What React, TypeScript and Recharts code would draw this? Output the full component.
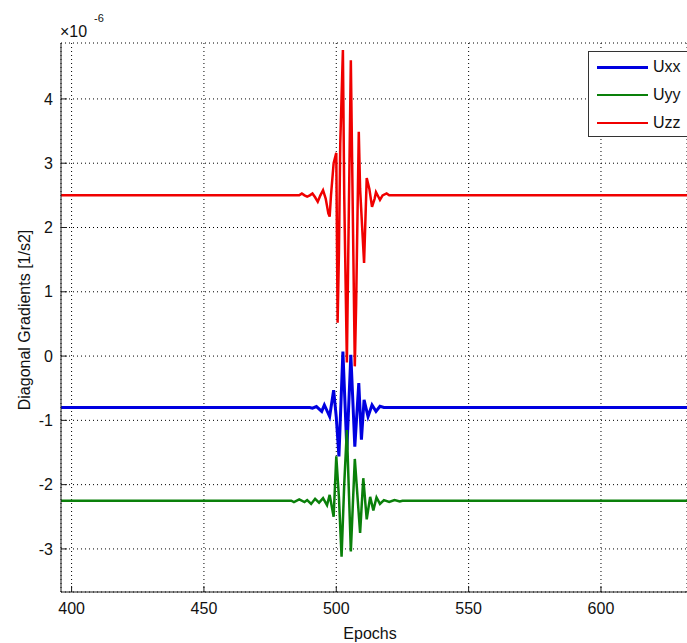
import React from 'react';
import { LineChart, Line, XAxis, YAxis, CartesianGrid } from 'recharts';

// ---------- data (values in units of 1e-6 [1/s2]) ----------
const X_TICKS = [400, 450, 500, 550, 600];
const Y_TICKS = [-3, -2, -1, 0, 1, 2, 3, 4];
const X_DOMAIN: [number, number] = [396, 632.5];
const Y_DOMAIN: [number, number] = [-3.67, 4.87];

const uxxEpochs = [396, 490, 491, 492.5, 494.5, 495.5, 497.5, 499, 500, 501, 502.5, 504, 505.5, 507, 508.5, 509.5, 510.5, 512, 513.5, 515, 516.5, 518, 633];
const uxxValues = [-0.8, -0.8, -0.81, -0.785, -0.86, -0.76, -0.94, -0.53, -0.95, -1.56, 0.07, -1.46, 0.02, -1.41, -0.42, -1.3, -0.68, -0.94, -0.76, -0.86, -0.78, -0.8, -0.8];

const uyyEpochs = [396, 483, 484, 486, 488, 489, 490.5, 492, 493.5, 495, 496.5, 497.5, 499, 500, 501, 502, 503, 504, 505.5, 507, 509, 510.2, 511.5, 512.8, 514, 515.2, 516.5, 518, 520, 522, 524, 525, 633];
const uyyValues = [-2.25, -2.25, -2.27, -2.23, -2.27, -2.24, -2.3, -2.22, -2.28, -2.21, -2.32, -2.16, -2.5, -1.56, -2.2, -3.12, -2.0, -1.15, -3.04, -1.6, -2.75, -1.9, -2.54, -2.19, -2.4, -2.2, -2.3, -2.24, -2.27, -2.24, -2.26, -2.25, -2.25];

const uzzEpochs = [396, 486, 487, 488, 489, 490, 491, 492, 493, 494, 495, 496, 497, 497.5, 498, 499, 500, 500.5, 501, 501.5, 502.5, 503, 504, 504.5, 505.5, 506, 507, 507.5, 508.5, 509, 510.5, 511.5, 512.5, 513.5, 514.5, 515, 516, 516.5, 517.5, 519, 520, 633];
const uzzValues = [2.5, 2.5, 2.53, 2.5, 2.48, 2.5, 2.53, 2.47, 2.4, 2.5, 2.58, 2.45, 2.22, 2.17, 2.5, 3.0, 3.16, 0.52, 1.6, 3.3, 4.76, 2.5, -0.1, 1.5, 4.6, 3.0, -0.16, 0.8, 3.49, 2.6, 1.45, 2.77, 2.6, 2.32, 2.45, 2.55, 2.47, 2.43, 2.5, 2.53, 2.5, 2.5];

const seriesNames = ['Uxx', 'Uyy', 'Uzz'];
const seriesColors = ['#0000e0', '#0a800a', '#f00000'];
const seriesWidths = [3, 2.5, 2.5];
const seriesEpochs = [uxxEpochs, uyyEpochs, uzzEpochs];
const seriesValues = [uxxValues, uyyValues, uzzValues];

const SERIES = seriesNames.map((name, i) => ({
  name,
  color: seriesColors[i],
  width: seriesWidths[i],
  data: seriesEpochs[i].map((x, j) => ({ x, y: seriesValues[i][j] })),
}));

const FONT = '"Liberation Sans", Arial, Helvetica, sans-serif';
const FS = 16;
const AXIS = '#1a1a1a';

export default function App() {
  return (
    <div
      style={{
        position: 'absolute',
        left: 0,
        top: 0,
        width: 687,
        height: 643,
        overflow: 'hidden',
        background: '#fff',
        fontFamily: FONT,
      }}
    >
      <LineChart width={687} height={643} margin={{ top: 43, right: 0, bottom: 0, left: 0 }} style={{ fontFamily: FONT }}>
        <CartesianGrid stroke="#000" strokeDasharray="1 3" strokeWidth={1} />
        <XAxis
          type="number"
          dataKey="x"
          domain={X_DOMAIN}
          ticks={X_TICKS}
          allowDataOverflow
          height={51}
          tickSize={-6}
          tickMargin={17}
          stroke={AXIS}
          axisLine={{ stroke: AXIS }}
          tickLine={{ stroke: AXIS }}
          tick={{ fill: '#111', fontSize: FS, fontFamily: FONT }}
        />
        <XAxis
          xAxisId="top"
          orientation="top"
          type="number"
          dataKey="x"
          domain={X_DOMAIN}
          ticks={X_TICKS}
          allowDataOverflow
          height={0}
          tickSize={-6}
          tickFormatter={() => ''}
          axisLine={{ stroke: AXIS }}
          tickLine={{ stroke: AXIS }}
        />
        <YAxis
          type="number"
          domain={Y_DOMAIN}
          ticks={Y_TICKS}
          allowDataOverflow
          width={61}
          tickSize={-6}
          tickMargin={14}
          axisLine={{ stroke: AXIS }}
          tickLine={{ stroke: AXIS }}
          tick={{ fill: '#111', fontSize: FS, fontFamily: FONT }}
        />
        {SERIES.map((s) => (
          <Line
            key={s.name}
            data={s.data}
            dataKey="y"
            name={s.name}
            type="linear"
            stroke={s.color}
            strokeWidth={s.width}
            dot={false}
            activeDot={false}
            isAnimationActive={false}
          />
        ))}
      </LineChart>

      <svg
        width={687}
        height={643}
        style={{ position: 'absolute', left: 0, top: 0, pointerEvents: 'none', fontFamily: FONT }}
      >
        <text x={60} y={37} fontSize={FS} fill="#111">×10</text>
        <text x={94} y={22} fontSize={11} fill="#111">-6</text>
        <text x={370} y={639} fontSize={FS} fill="#111" textAnchor="middle">Epochs</text>
        <text
          x={30}
          y={320}
          fontSize={FS}
          fill="#111"
          textAnchor="middle"
          transform="rotate(-90 30 320)"
        >
          Diagonal Gradients [1/s2]
        </text>
      </svg>

      <div
        style={{
          position: 'absolute',
          left: 588,
          top: 51,
          width: 120,
          height: 86,
          boxSizing: 'border-box',
          border: '1px solid #333',
          background: '#fff',
        }}
      >
        {SERIES.map((s, i) => (
          <div
            key={s.name}
            style={{
              position: 'absolute',
              left: 8,
              top: 15 + i * 28 - 10,
              height: 20,
              display: 'flex',
              alignItems: 'center',
              whiteSpace: 'nowrap',
            }}
          >
            <div style={{ width: 51, height: s.width, background: s.color }} />
            <span style={{ marginLeft: 5, fontSize: FS, color: '#111', fontFamily: FONT }}>{s.name}</span>
          </div>
        ))}
      </div>
    </div>
  );
}
